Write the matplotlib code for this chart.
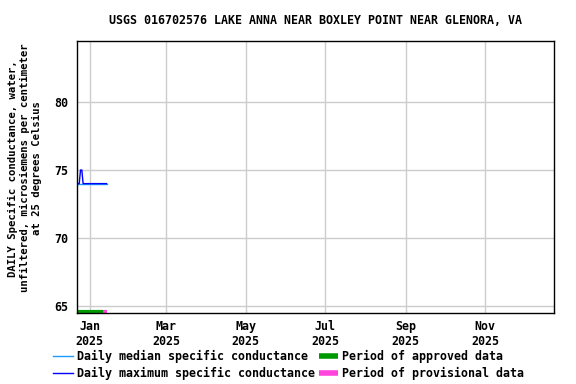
import numpy as np
import matplotlib
matplotlib.use("Agg")
import matplotlib.pyplot as plt
from matplotlib.lines import Line2D

# data
dates = np.arange(np.datetime64("2024-12-22"), np.datetime64("2025-01-15"))
max_vals = [74, 74, 74, 75, 75] + [74] * 19
median_vals = [74] * 24
approved_period = [np.datetime64("2024-12-22"), np.datetime64("2025-01-11")]
provisional_period = [np.datetime64("2025-01-11"), np.datetime64("2025-01-14")]
tick_dates = [np.datetime64(d) for d in ["2025-01-01", "2025-03-01", "2025-05-01",
                                         "2025-07-01", "2025-09-01", "2025-11-01"]]
tick_labels = ["Jan\n2025", "Mar\n2025", "May\n2025", "Jul\n2025", "Sep\n2025", "Nov\n2025"]

title = "USGS 016702576 LAKE ANNA NEAR BOXLEY POINT NEAR GLENORA, VA"
ylabel = "DAILY Specific conductance, water,\nunfiltered, microsiemens per centimeter\nat 25 degrees Celsius"

plt.rcParams["font.family"] = "DejaVu Sans Mono"
plt.rcParams["font.weight"] = "bold"
fs = 8.4

fig = plt.figure(figsize=(5.76, 3.84), dpi=100)
ax = fig.add_axes([0.133, 0.186, 0.829, 0.707])

ax.plot(dates, median_vals, color="#1e9bff", lw=1)
ax.plot(dates, max_vals, color="#0000ff", lw=1)
ax.plot(approved_period, [64.56, 64.56], color="#009900", lw=3, solid_capstyle="butt")
ax.plot(provisional_period, [64.56, 64.56], color="#ff44dd", lw=3, solid_capstyle="butt")

ax.set_xlim(np.datetime64("2024-12-22"), np.datetime64("2025-12-24"))
ax.set_ylim(64.5, 84.5)
ax.set_yticks([65, 70, 75, 80])
ax.set_xticks(tick_dates)
ax.set_xticklabels(tick_labels)
ax.tick_params(length=0, labelsize=fs)
ax.tick_params(axis="x", pad=5)
ax.tick_params(axis="y", pad=6)
ax.grid(color="#cccccc", lw=1)
ax.set_axisbelow(True)
for s in ax.spines.values():
    s.set_linewidth(1)

ax.set_title(title, fontsize=fs, fontweight="bold", pad=12)
ax.set_ylabel(ylabel, fontsize=7.7, fontweight="bold", linespacing=1.2)
ax.yaxis.set_label_coords(-0.108, 0.532)
ax.yaxis.label.set_va("center")

handles = [Line2D([], [], color="#1e9bff", lw=1),
           Line2D([], [], color="#0000ff", lw=1),
           Line2D([], [], color="#009900", lw=4, solid_capstyle="butt"),
           Line2D([], [], color="#ff44dd", lw=4, solid_capstyle="butt")]
labels = ["Daily median specific conductance", "Daily maximum specific conductance",
          "Period of approved data", "Period of provisional data"]
fig.legend(handles, labels, ncol=2, loc="lower left", bbox_to_anchor=(0.078, -0.01),
           frameon=False, fontsize=fs, handlelength=1.7, handletextpad=0.35,
           columnspacing=0.3, labelspacing=0.3, borderpad=0.2)

fig.savefig("out.png", dpi=100)
